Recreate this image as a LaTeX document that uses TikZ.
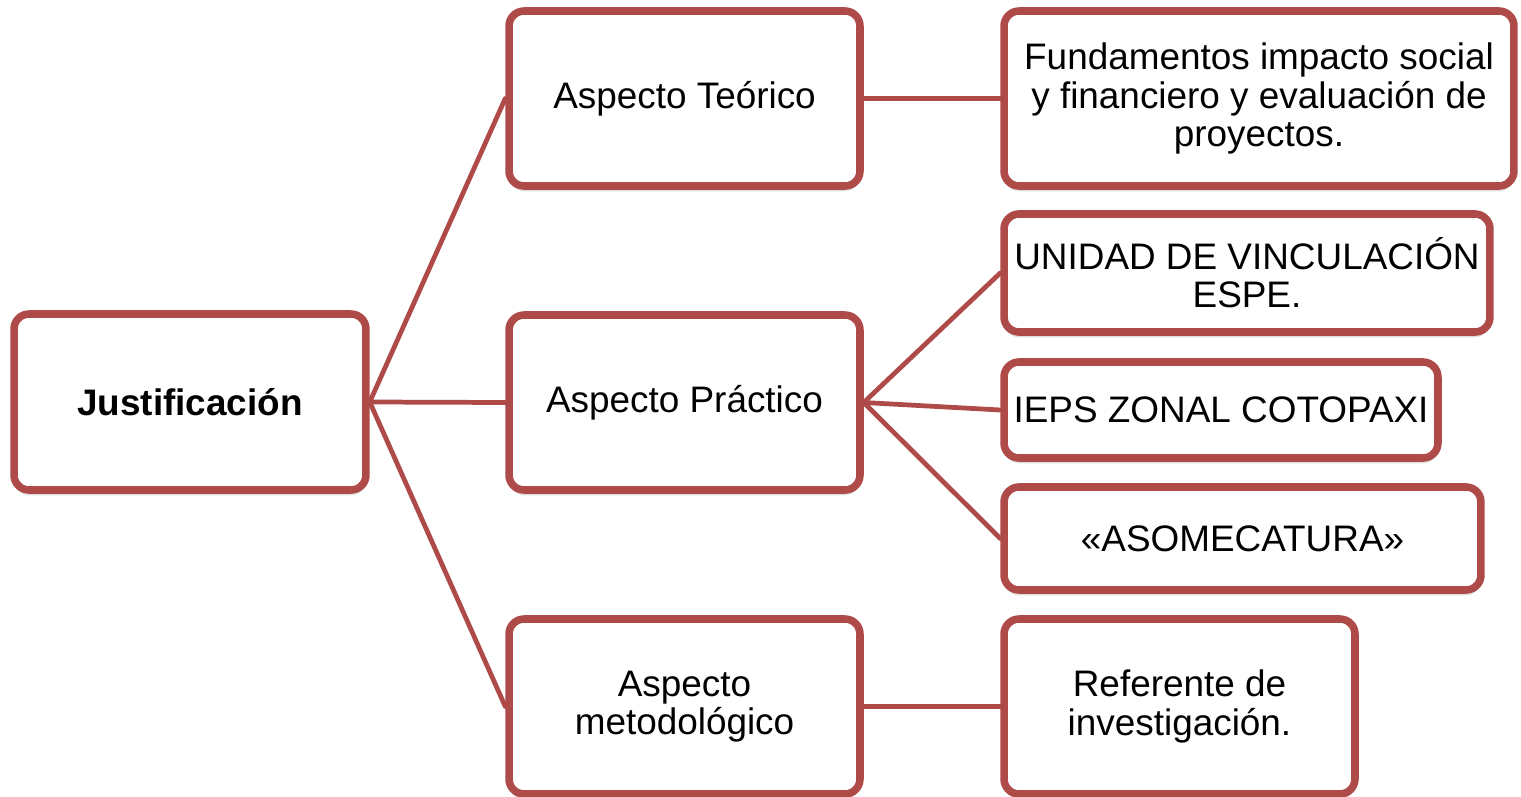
\documentclass[tikz,border=0pt]{standalone}
\usepackage{fontspec}
\setmainfont{Liberation Sans}
\usepackage{tikz}
\usetikzlibrary{shadows}
\definecolor{boxred}{RGB}{174,74,72}

\begin{document}
\begin{tikzpicture}
      [x=0.02cm, y=-0.02cm, line cap=round, line join=round,
       caja/.style={draw=boxred, line width=4.3pt, rounded corners=0.3cm, fill=white,
                    drop shadow={shadow xshift=0pt, shadow yshift=-3pt, opacity=0.25},
                    align=center, inner sep=2pt, font=\fontsize{21}{21.8}\selectfont},
       enlace/.style={draw=boxred, line width=2.7pt}]%main layer

\useasboundingbox (0,0) rectangle (1521,797);

%boxes
 \node[caja, minimum width=7.04cm, minimum height=3.52cm] (just) at (190,402) {\textbf{Justificación}};
 \node[caja, minimum width=7.02cm, minimum height=3.50cm] (teo) at (684.5,98.5) {Aspecto Teórico};
 \node[caja, minimum width=7.02cm, minimum height=3.50cm] (prac) at (684.5,402.5) {Aspecto Práctico};
 \node[caja, minimum width=7.02cm, minimum height=3.50cm] (meto) at (684.5,706.5) {Aspecto\\metodológico};

 \node[caja, minimum width=10.20cm, minimum height=3.50cm] (fund) at (1259,98.5)
      {Fundamentos impacto social\\y financiero y evaluación de\\proyectos.};
 \node[caja, minimum width=9.72cm, minimum height=2.36cm] (unid) at (1247,273) {UNIDAD DE VINCULACIÓN\\ESPE.};
 \node[caja, minimum width=8.68cm, minimum height=1.92cm] (ieps) at (1221,410) {IEPS ZONAL COTOPAXI};
 \node[caja, minimum width=9.54cm, minimum height=2.06cm] (asom) at (1242.5,538.5) {«ASOMECATURA»};
 \node[caja, minimum width=7.02cm, minimum height=3.50cm] (refe) at (1179.5,706.5) {Referente de\\investigación.};

%connectors
 \foreach \n in {teo,prac,meto}
   \draw[enlace] (just.east) -- (\n.west);
 \foreach \n in {unid,ieps,asom}
   \draw[enlace] (prac.east) -- (\n.west);
 \draw[enlace] (teo.east) -- (fund.west);
 \draw[enlace] (meto.east) -- (refe.west);

\end{tikzpicture}
\end{document}
